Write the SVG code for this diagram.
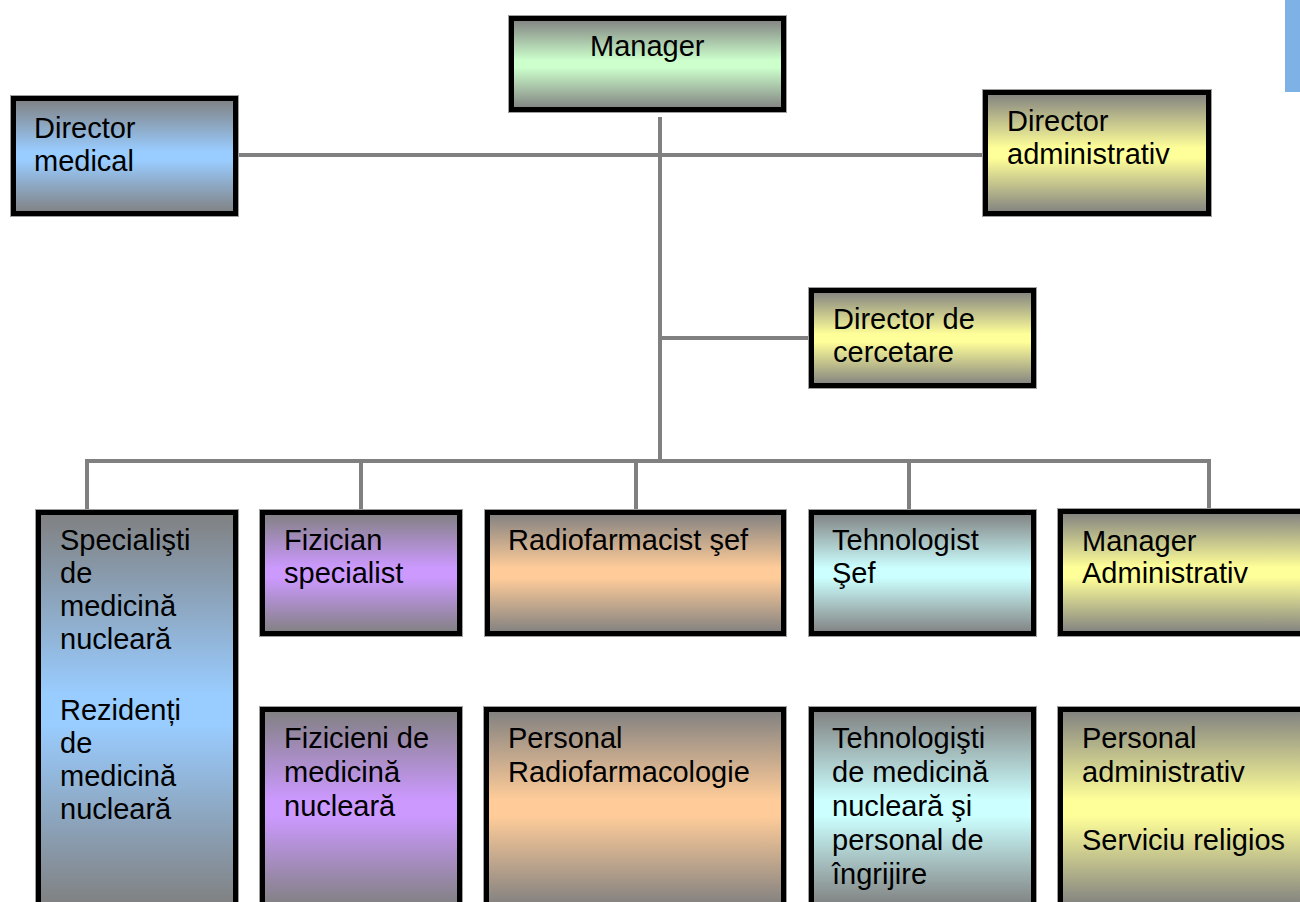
<svg xmlns="http://www.w3.org/2000/svg" width="1300" height="902" viewBox="0 0 1300 902">
<style>
.box{stroke:#000;stroke-width:5}
.edge{fill:none;stroke:#a0a0a0;stroke-width:1}
.t{font-family:"Liberation Sans",Arial,sans-serif;font-size:29px;fill:#000}
.c{stroke:#808080;stroke-width:4;fill:none}
</style>
<defs>
<linearGradient id="gGreen" x1="0" y1="0" x2="0" y2="1"><stop offset="0" stop-color="#808080"/><stop offset="0.46" stop-color="#CCFFCC"/><stop offset="0.54" stop-color="#CCFFCC"/><stop offset="1" stop-color="#808080"/></linearGradient>
<linearGradient id="gBlue" x1="0" y1="0" x2="0" y2="1"><stop offset="0" stop-color="#808080"/><stop offset="0.46" stop-color="#99CCFF"/><stop offset="0.54" stop-color="#99CCFF"/><stop offset="1" stop-color="#808080"/></linearGradient>
<linearGradient id="gYellow" x1="0" y1="0" x2="0" y2="1"><stop offset="0" stop-color="#808080"/><stop offset="0.46" stop-color="#FFFF99"/><stop offset="0.54" stop-color="#FFFF99"/><stop offset="1" stop-color="#808080"/></linearGradient>
<linearGradient id="gPurple" x1="0" y1="0" x2="0" y2="1"><stop offset="0" stop-color="#808080"/><stop offset="0.46" stop-color="#CC99FF"/><stop offset="0.54" stop-color="#CC99FF"/><stop offset="1" stop-color="#808080"/></linearGradient>
<linearGradient id="gOrange" x1="0" y1="0" x2="0" y2="1"><stop offset="0" stop-color="#808080"/><stop offset="0.46" stop-color="#FFCC99"/><stop offset="0.54" stop-color="#FFCC99"/><stop offset="1" stop-color="#808080"/></linearGradient>
<linearGradient id="gCyan" x1="0" y1="0" x2="0" y2="1"><stop offset="0" stop-color="#808080"/><stop offset="0.46" stop-color="#CCFFFF"/><stop offset="0.54" stop-color="#CCFFFF"/><stop offset="1" stop-color="#808080"/></linearGradient>
</defs>
<rect x="0" y="0" width="1300" height="902" fill="#fff"/>
<rect x="1285" y="0" width="15" height="92" fill="#7EB1E6"/>

<g id="connectors">
<line class="c" x1="660" y1="117" x2="660" y2="461"/>
<line class="c" x1="238" y1="155" x2="983" y2="155"/>
<line class="c" x1="660" y1="338" x2="809" y2="338"/>
<line class="c" x1="85" y1="461" x2="1211" y2="461"/>
<line class="c" x1="87" y1="461" x2="87" y2="509"/>
<line class="c" x1="361" y1="461" x2="361" y2="509"/>
<line class="c" x1="636" y1="461" x2="636" y2="509"/>
<line class="c" x1="909" y1="461" x2="909" y2="509"/>
<line class="c" x1="1209" y1="461" x2="1209" y2="509"/>
</g>

<g id="manager">
<rect class="edge" x="508.5" y="15.5" width="278" height="97"/>
<rect class="box" x="511.5" y="18.5" width="272" height="91" fill="url(#gGreen)"/>
<text class="t" x="590" y="56">Manager</text>
</g>

<g id="director-medical">
<rect class="edge" x="10.5" y="95.5" width="228" height="121"/>
<rect class="box" x="13.5" y="98.5" width="222" height="115" fill="url(#gBlue)"/>
<text class="t" x="34" y="138">Director</text>
<text class="t" x="34" y="171">medical</text>
</g>

<g id="director-administrativ">
<rect class="edge" x="982.5" y="89.5" width="229" height="127"/>
<rect class="box" x="985.5" y="92.5" width="223" height="121" fill="url(#gYellow)"/>
<text class="t" x="1007" y="131">Director</text>
<text class="t" x="1007" y="164">administrativ</text>
</g>

<g id="director-cercetare">
<rect class="edge" x="808.5" y="287.5" width="228" height="101"/>
<rect class="box" x="811.5" y="290.5" width="222" height="95" fill="url(#gYellow)"/>
<text class="t" x="833" y="329">Director de</text>
<text class="t" x="833" y="362">cercetare</text>
</g>

<g id="specialisti">
<rect class="edge" x="35.5" y="509.5" width="203" height="400"/>
<rect class="box" x="38.5" y="512.5" width="197" height="394" fill="url(#gBlue)"/>
<text class="t" x="60" y="550">Specialişti</text>
<text class="t" x="60" y="583">de</text>
<text class="t" x="60" y="616">medicină</text>
<text class="t" x="60" y="649">nucleară</text>
<text class="t" x="60" y="720">Rezidenți</text>
<text class="t" x="60" y="753">de</text>
<text class="t" x="60" y="786">medicină</text>
<text class="t" x="60" y="819">nucleară</text>
</g>

<g id="fizician-specialist">
<rect class="edge" x="259.5" y="509.5" width="203" height="127"/>
<rect class="box" x="262.5" y="512.5" width="197" height="121" fill="url(#gPurple)"/>
<text class="t" x="284" y="550">Fizician</text>
<text class="t" x="284" y="583">specialist</text>
</g>

<g id="radiofarmacist-sef">
<rect class="edge" x="484.5" y="509.5" width="302" height="127"/>
<rect class="box" x="487.5" y="512.5" width="296" height="121" fill="url(#gOrange)"/>
<text class="t" x="508" y="550">Radiofarmacist şef</text>
</g>

<g id="tehnologist-sef">
<rect class="edge" x="808.5" y="509.5" width="228" height="127"/>
<rect class="box" x="811.5" y="512.5" width="222" height="121" fill="url(#gCyan)"/>
<text class="t" x="832" y="550">Tehnologist</text>
<text class="t" x="832" y="583">Şef</text>
</g>

<g id="manager-administrativ">
<rect class="edge" x="1057.5" y="508.5" width="260" height="128"/>
<rect class="box" x="1060.5" y="511.5" width="254" height="122" fill="url(#gYellow)"/>
<text class="t" x="1082" y="551">Manager</text>
<text class="t" x="1082" y="583">Administrativ</text>
</g>

<g id="fizicieni">
<rect class="edge" x="259.5" y="706.5" width="203" height="203"/>
<rect class="box" x="262.5" y="709.5" width="197" height="197" fill="url(#gPurple)"/>
<text class="t" x="284" y="748">Fizicieni de</text>
<text class="t" x="284" y="782">medicină</text>
<text class="t" x="284" y="816">nucleară</text>
</g>

<g id="personal-radiofarmacologie">
<rect class="edge" x="483.5" y="706.5" width="303" height="203"/>
<rect class="box" x="486.5" y="709.5" width="297" height="197" fill="url(#gOrange)"/>
<text class="t" x="508" y="748">Personal</text>
<text class="t" x="508" y="782">Radiofarmacologie</text>
</g>

<g id="tehnologisti">
<rect class="edge" x="808.5" y="706.5" width="228" height="203"/>
<rect class="box" x="811.5" y="709.5" width="222" height="197" fill="url(#gCyan)"/>
<text class="t" x="832" y="748">Tehnologişti</text>
<text class="t" x="832" y="782">de medicină</text>
<text class="t" x="832" y="816">nucleară şi</text>
<text class="t" x="832" y="850">personal de</text>
<text class="t" x="832" y="884">îngrijire</text>
</g>

<g id="personal-administrativ">
<rect class="edge" x="1057.5" y="706.5" width="260" height="203"/>
<rect class="box" x="1060.5" y="709.5" width="254" height="197" fill="url(#gYellow)"/>
<text class="t" x="1082" y="748">Personal</text>
<text class="t" x="1082" y="782">administrativ</text>
<text class="t" x="1082" y="850">Serviciu religios</text>
</g>
</svg>
